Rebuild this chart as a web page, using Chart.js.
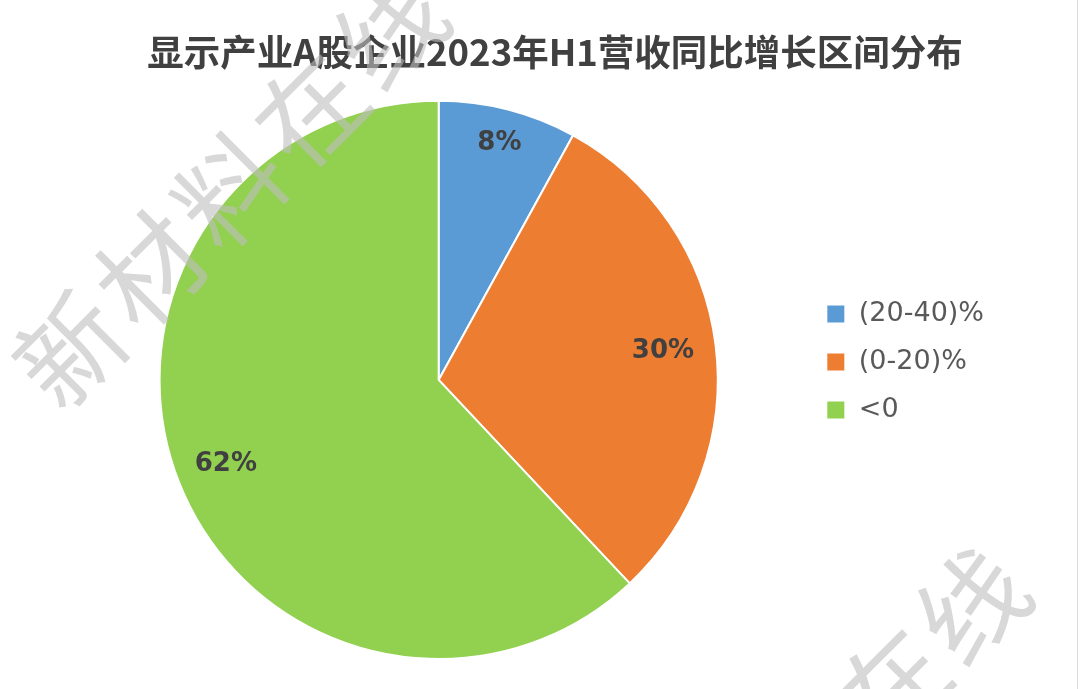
<!DOCTYPE html>
<html>
<head>
<meta charset="utf-8">
<script src="https://cdn.jsdelivr.net/npm/chart.js@4.4.0/dist/chart.umd.min.js"></script>
<style>
  html, body { margin: 0; padding: 0; background: #fff; overflow: hidden; }
  #wrap { position: relative; width: 1080px; height: 689px; }
  #edge { position: absolute; left: 1077px; top: 0; width: 1px; height: 689px; background: #dcdcdc; }
</style>
</head>
<body>
<div id="wrap">
  <canvas id="myChart" width="1080" height="689"></canvas>
  <div id="edge"></div>
</div>
<script>
'use strict';

// データ
const titleText = '显示产业A股企业2023年H1营收同比增长区间分布';
const categories = ['(20-40)%', '(0-20)%', '<0'];
const shares = [8, 30, 62];
const sliceColors = ['#5B9BD5', '#ED7D31', '#92D050'];
const watermarkText = '新材料在线';

// 扇形の中に割合を描く
const pctLabels = {
  id: 'pctLabels',
  afterDatasetsDraw(chart) {
    const ctx = chart.ctx;
    const meta = chart.getDatasetMeta(0);
    const factors = [0.875, 0.81, 0.82];
    ctx.save();
    ctx.font = 'bold 26px "DejaVu Sans"';
    ctx.fillStyle = '#404040';
    ctx.textAlign = 'center';
    ctx.textBaseline = 'middle';
    meta.data.forEach((arc, i) => {
      const p = arc.getProps(['x', 'y', 'startAngle', 'endAngle', 'outerRadius']);
      const a = (p.startAngle + p.endAngle) / 2;
      const r = p.outerRadius * factors[i];
      ctx.fillText(shares[i] + '%', p.x + Math.cos(a) * r, p.y + Math.sin(a) * r);
    });
    ctx.restore();
  }
};

// タイトルと凡例の位置を微調整
const nudge = {
  id: 'nudge',
  afterLayout(chart) {
    const t = chart.titleBlock;
    t.left += 22;
    t.right += 22;
    const l = chart.legend;
    l.top += 32;
    l.bottom += 32;
  }
};

// 透かし文字
const watermark = {
  id: 'watermark',
  afterDraw(chart) {
    const ctx = chart.ctx;
    const ang = -Math.PI / 4;
    const step = 113;
    const drawLine = (cx, cy) => {
      const chars = Array.from(watermarkText);
      chars.forEach((ch, i) => {
        const d = (i - (chars.length - 1) / 2) * step;
        ctx.save();
        ctx.translate(cx + Math.cos(ang) * d, cy + Math.sin(ang) * d);
        ctx.rotate(ang);
        ctx.fillText(ch, 0, 0);
        ctx.restore();
      });
    };
    ctx.save();
    ctx.font = '400 106px "Noto Sans CJK SC"';
    ctx.fillStyle = 'rgba(190, 190, 190, 0.6)';
    ctx.textAlign = 'center';
    ctx.textBaseline = 'middle';
    drawLine(230, 190);
    drawLine(812, 765);
    ctx.restore();
  }
};

const ctx = document.getElementById('myChart').getContext('2d');

const data = {
  labels: categories,
  datasets: [{
    data: shares,
    backgroundColor: sliceColors,
    borderColor: '#ffffff',
    borderWidth: 2,
  }]
};

const options = {
  responsive: false,
  animation: false,
  events: [],
  layout: {
    padding: { left: 72, right: 86, top: 0, bottom: 29 }
  },
  plugins: {
    title: {
      display: true,
      text: titleText,
      color: '#404040',
      font: { family: '"Noto Sans CJK SC"', size: 36.5, weight: 'bold' },
      padding: { top: 30, bottom: 26 },
    },
    legend: {
      position: 'right',
      labels: {
        boxWidth: 19,
        boxHeight: 19,
        padding: 21,
        color: '#595959',
        font: { family: '"DejaVu Sans"', size: 27 },
      }
    },
    tooltip: { enabled: false },
  }
};

const myChart = new Chart(ctx, {
  type: 'pie',
  data: data,
  options: options,
  plugins: [pctLabels, nudge, watermark],
});
</script>
</body>
</html>
